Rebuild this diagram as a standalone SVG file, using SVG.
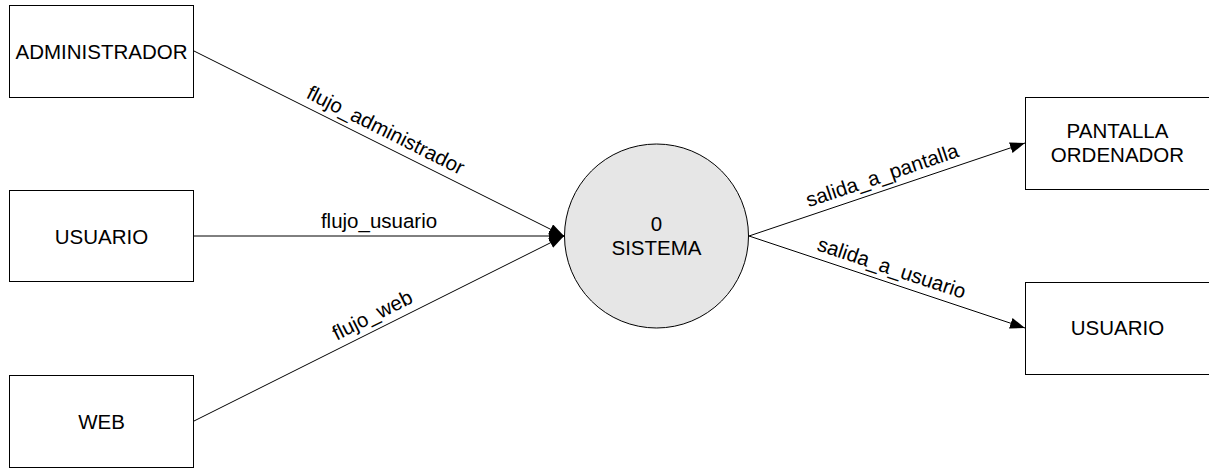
<svg xmlns="http://www.w3.org/2000/svg" width="1209" height="468" viewBox="0 0 1209 468">
<style>
.box{fill:#fff;stroke:#000;stroke-width:1}
.proc{fill:#e6e6e6;stroke:#000;stroke-width:1}
text{font-family:"Liberation Sans",Arial,sans-serif;font-size:20.5px;fill:#000;text-anchor:middle}
.edge{stroke:#000;stroke-width:1;fill:none;marker-end:url(#arr)}
</style>
<defs>
<marker id="arr" markerUnits="userSpaceOnUse" markerWidth="16" markerHeight="12" refX="15" refY="5.5" orient="auto">
<path d="M0,0 L15,5.5 L0,11 z" fill="#000"/>
</marker>
</defs>
<rect width="1209" height="468" fill="#fff"/>
<g id="connectors">
<line class="edge" x1="194" y1="51" x2="564" y2="236"/>
<line class="edge" x1="194" y1="236" x2="564" y2="236"/>
<line class="edge" x1="194" y1="421" x2="564" y2="236"/>
<line class="edge" x1="749" y1="236" x2="1025" y2="143"/>
<line class="edge" x1="749" y1="236" x2="1025" y2="328"/>
<text transform="translate(382.6,136.3) rotate(26.57)">flujo_administrador</text>
<text x="379" y="228">flujo_usuario</text>
<text transform="translate(375.4,321.3) rotate(-26.57)">flujo_web</text>
<text transform="translate(884.4,181.9) rotate(-18.62)">salida_a_pantalla</text>
<text transform="translate(889.5,274.4) rotate(18.43)">salida_a_usuario</text>
</g>
<g id="administrador">
<rect class="box" x="9.5" y="5.5" width="184" height="92"/>
<text x="101.5" y="58.5">ADMINISTRADOR</text>
</g>
<g id="usuario_in">
<rect class="box" x="9.5" y="190.5" width="184" height="91"/>
<text x="101.5" y="243.5">USUARIO</text>
</g>
<g id="web">
<rect class="box" x="9.5" y="375.5" width="184" height="92"/>
<text x="101.5" y="428.5">WEB</text>
</g>
<g id="sistema">
<circle class="proc" cx="656.5" cy="236" r="92"/>
<text x="656.5" y="230.5">0</text>
<text x="656.5" y="254.5">SISTEMA</text>
</g>
<g id="pantalla">
<rect class="box" x="1025.5" y="97.5" width="184" height="92"/>
<text x="1117.5" y="137.5">PANTALLA</text>
<text x="1117.5" y="162">ORDENADOR</text>
</g>
<g id="usuario_out">
<rect class="box" x="1025.5" y="282.5" width="184" height="92"/>
<text x="1117.5" y="335">USUARIO</text>
</g>
</svg>
